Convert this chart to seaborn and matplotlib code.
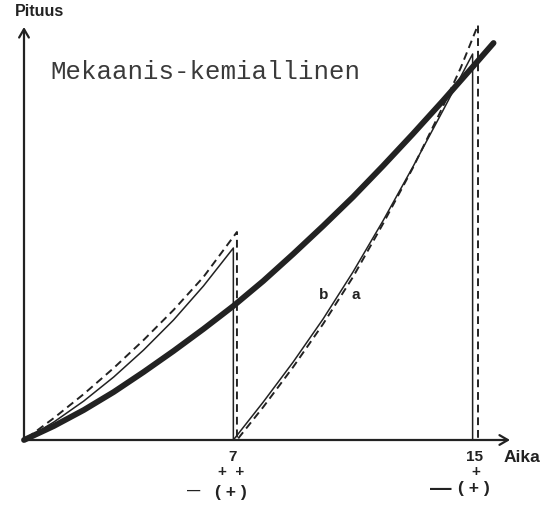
import matplotlib
matplotlib.use("Agg")
import matplotlib.pyplot as plt
import seaborn as sns
import numpy as np
import pandas as pd

# thick curve: mechano-chemical growth (time, length)
thick_x = [0, 1, 2, 3, 4, 5, 6, 7, 8, 9, 10, 11, 12, 13, 14, 15, 15.7]
thick_y = [0, 14, 30, 48, 68, 89, 111, 134, 159, 186, 214, 243, 274, 306, 339, 373, 397]

# thin solid sawtooth (b)
b_x = [0, 1, 2, 3, 4, 5, 6, 7, 7,
       8, 9, 10, 11, 12, 13, 14, 15, 15]
b_y = [0, 18, 39, 63, 90, 120, 154, 192, 0,
       38, 78, 121, 168, 219, 273, 329, 386, 0]

# dashed sawtooth (a)
a_x = [0.1, 1, 2, 3, 4, 5, 6, 7.12, 7.12,
       7.12, 8, 9, 10, 11, 12, 13, 14, 14.6, 15.18, 15.18]
a_y = [2, 22, 46, 72, 100, 130, 163, 208, 0,
       0, 33, 73, 116, 163, 216, 272, 333, 372, 415, 0]

tick_pos = [7, 15]
tick_rows = [["7", "+  +", "—", "( + )"], ["15", "+", "—", "( + )"]]

sns.set_style("white")
plt.rcParams['font.family'] = ['Liberation Sans', 'DejaVu Sans']

ink = "#222222"
fig = plt.figure(figsize=(5.55, 5.08), dpi=100)
ax = fig.add_axes([24 / 555, 68 / 508, 486 / 555, 413 / 508])
ax.set_xlim(0, 16.25)
ax.set_ylim(0, 413)
for s in ax.spines.values():
    s.set_visible(False)
ax.set_xticks([])
ax.set_yticks([])
ax.patch.set_alpha(0)

sns.lineplot(x=thick_x, y=thick_y, sort=False, estimator=None, ax=ax,
             color=ink, lw=4.2, solid_capstyle="round", solid_joinstyle="round")
sns.lineplot(x=b_x, y=b_y, sort=False, estimator=None, ax=ax,
             color=ink, lw=1.1)
sns.lineplot(x=a_x, y=a_y, sort=False, estimator=None, ax=ax,
             color=ink, lw=1.4, linestyle=(0, (4, 2.5)))
for ln in ax.lines:
    ln.set_clip_on(False)

# axes with open arrow heads
arrow = dict(arrowstyle="->,head_length=0.6,head_width=0.35", color=ink, lw=1.6,
             shrinkA=0, shrinkB=0)
ax.annotate("", xy=(0, 1.0), xytext=(0, 0), xycoords="axes fraction", arrowprops=arrow)
ax.annotate("", xy=(1.0, 0), xytext=(0, 0), xycoords="axes fraction", arrowprops=arrow)

fig.text(39 / 555, 1 - 12 / 508, "Pituus", ha="center", va="center",
         fontsize=11.5, fontweight="bold", color=ink)
fig.text(522 / 555, 1 - 457 / 508, "Aika", ha="center", va="center",
         fontsize=12.5, fontweight="bold", color=ink)
fig.text(50 / 555, 1 - 72 / 508, "Mekaanis-kemiallinen", ha="left", va="center",
         fontsize=18.5, family="Liberation Mono", color="#3a3a3a")
fig.text(323.5 / 555, 1 - 295 / 508, "b", ha="center", va="center",
         fontsize=11, fontweight="bold", color=ink)
fig.text(356 / 555, 1 - 295 / 508, "a", ha="center", va="center",
         fontsize=11, fontweight="bold", color=ink)

offsets = [[(-1, -17), (-2, -32), (-40, -51), (-2, -52)],
           [(1.5, -17), (3.5, -32), (-31.5, -49), (1, -49)]]
sizes = [[11, 11, 9.5, 12.5], [11, 11, 15.5, 12.5]]
for pos, rows, offs, fs in zip(tick_pos, tick_rows, offsets, sizes):
    for txt, (dx, dy), f in zip(rows, offs, fs):
        ax.annotate(txt, xy=(pos, 0), xycoords=("data", "axes fraction"),
                    xytext=(dx, dy), textcoords="offset pixels",
                    ha="center", va="center", fontsize=f,
                    fontweight="bold", color=ink, annotation_clip=False)

fig.savefig("out.png", dpi=100)
